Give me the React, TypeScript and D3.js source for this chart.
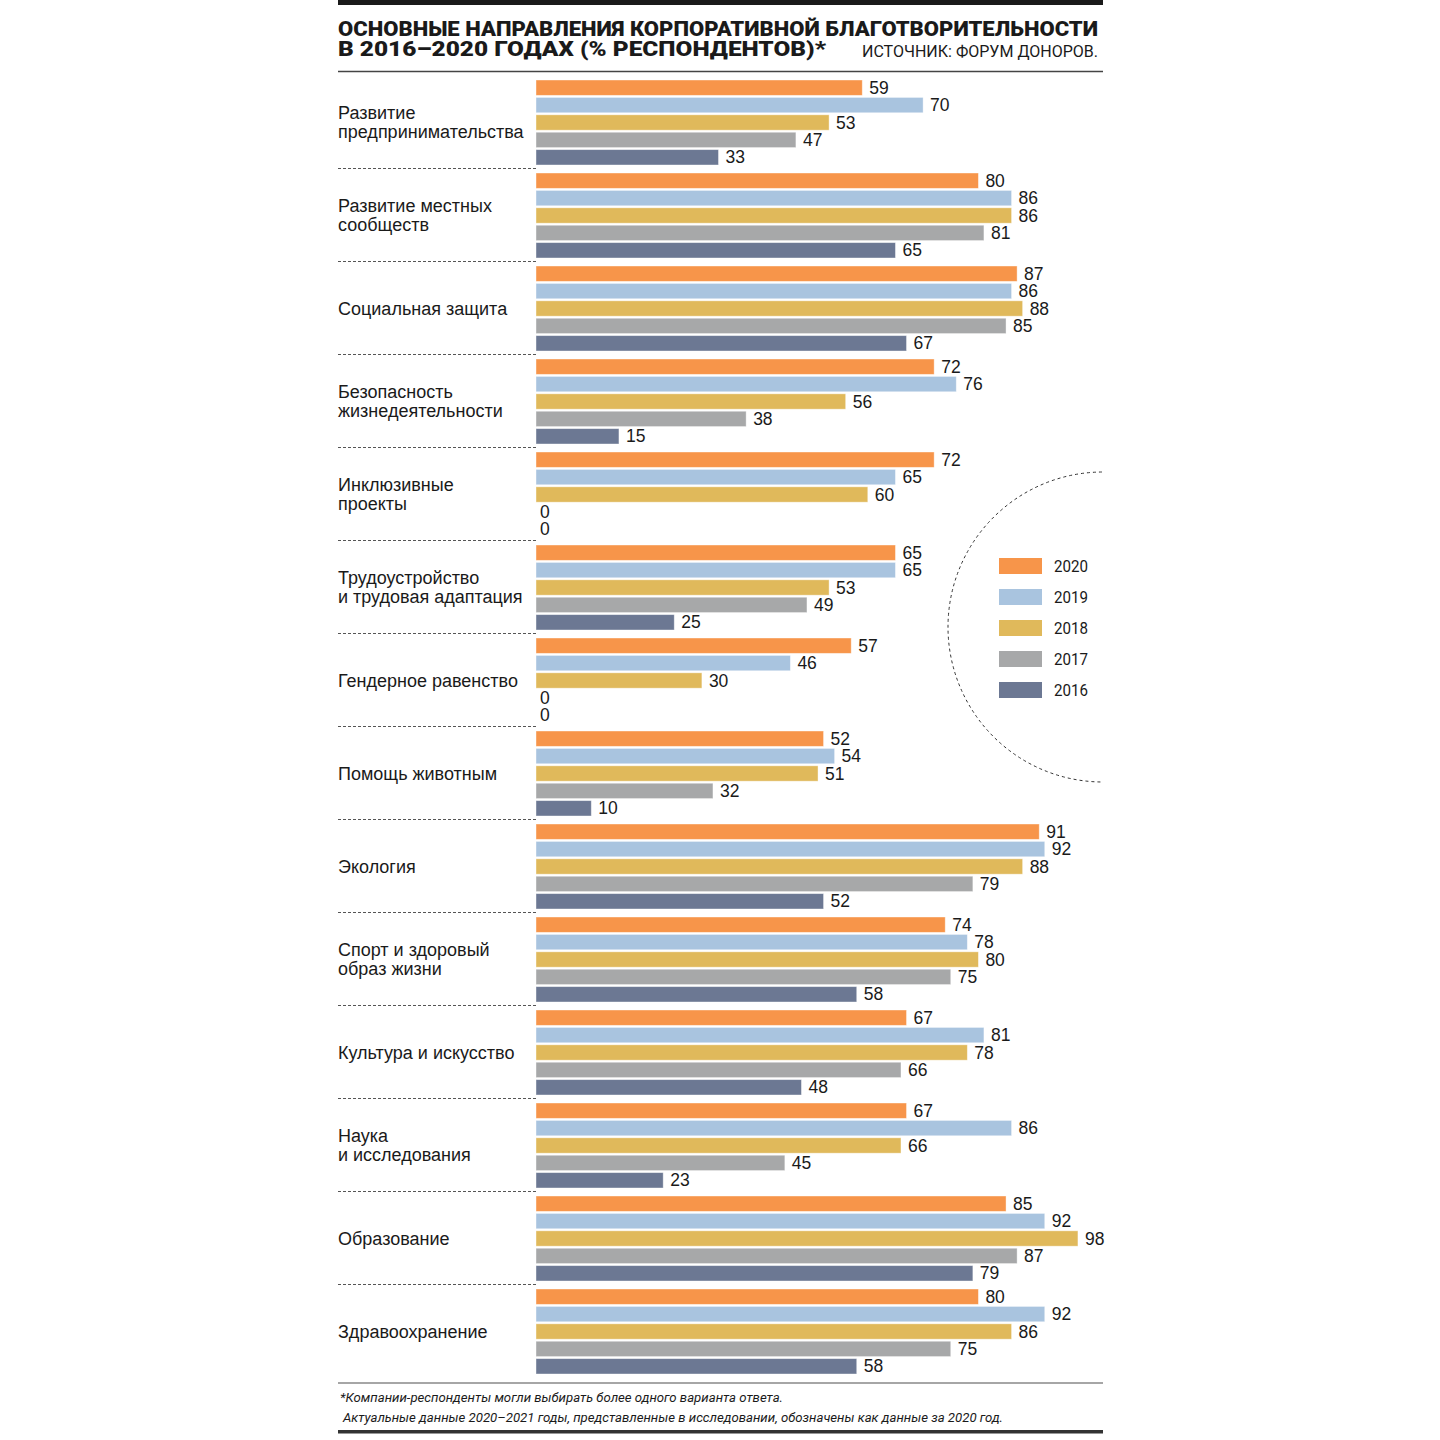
import React from "react";
import * as d3 from "d3";

const categories = [
  ["Развитие", "предпринимательства"],
  ["Развитие местных", "сообществ"],
  ["Социальная защита"],
  ["Безопасность", "жизнедеятельности"],
  ["Инклюзивные", "проекты"],
  ["Трудоустройство", "и трудовая адаптация"],
  ["Гендерное равенство"],
  ["Помощь животным"],
  ["Экология"],
  ["Спорт и здоровый", "образ жизни"],
  ["Культура и искусство"],
  ["Наука", "и исследования"],
  ["Образование"],
  ["Здравоохранение"],
];

const years = ["2020", "2019", "2018", "2017", "2016"];
const colors = ["#F7954A", "#A9C4DF", "#E0B95B", "#A7A8A9", "#6C7893"];

const v2020 = [59, 80, 87, 72, 72, 65, 57, 52, 91, 74, 67, 67, 85, 80];
const v2019 = [70, 86, 86, 76, 65, 65, 46, 54, 92, 78, 81, 86, 92, 92];
const v2018 = [53, 86, 88, 56, 60, 53, 30, 51, 88, 80, 78, 66, 98, 86];
const v2017 = [47, 81, 85, 38, 0, 49, 0, 32, 79, 75, 66, 45, 87, 75];
const v2016 = [33, 65, 67, 15, 0, 25, 0, 10, 52, 58, 48, 23, 79, 58];
const series = [v2020, v2019, v2018, v2017, v2016];

const LEFT = 338;
const RIGHT = 1103;
const BAR_X0 = 536;

export default function App() {
  const x = d3.scaleLinear().domain([0, 100]).range([BAR_X0, BAR_X0 + 553]);
  const y = d3
    .scaleBand<number>()
    .domain(d3.range(categories.length))
    .range([80, 80 + 93 * categories.length])
    .paddingInner(0)
    .paddingOuter(0);
  const yInner = d3.scaleBand<number>().domain(d3.range(5)).range([0, 85]).paddingInner(2 / 17);
  const legendY = d3.scaleLinear().domain([0, 1]).range([558, 589]);

  const labelFont = "'Liberation Sans', Arial, Helvetica, sans-serif";
  const condFont = "Roboto, 'Liberation Sans', sans-serif";

  return (
    <svg width={1440} height={1440} style={{ display: "block", position: "absolute", left: 0, top: 0 }}>
      <rect x={0} y={0} width={1440} height={1440} fill="#fff" />
      {/* top thick bar */}
      <rect x={LEFT} y={0} width={RIGHT - LEFT} height={5} fill="#1a1a1a" />
      {/* title */}
      <text
        x={LEFT}
        y={35.5}
        fontFamily={condFont}
        fontWeight={900}
        fontSize={20.5}
        fill="#1a1a1a"
        textLength={760}
        lengthAdjust="spacingAndGlyphs"
      >
        ОСНОВНЫЕ НАПРАВЛЕНИЯ КОРПОРАТИВНОЙ БЛАГОТВОРИТЕЛЬНОСТИ
      </text>
      <text
        x={LEFT}
        y={56}
        fontFamily={condFont}
        fontWeight={900}
        fontSize={20.5}
        fill="#1a1a1a"
        textLength={488}
        lengthAdjust="spacingAndGlyphs"
      >
        В 2016–2020 ГОДАХ (% РЕСПОНДЕНТОВ)*
      </text>
      <text
        x={1098}
        y={57}
        textAnchor="end"
        fontFamily={condFont}
        fontSize={16}
        fill="#1a1a1a"
        textLength={236}
        lengthAdjust="spacingAndGlyphs"
      >
        ИСТОЧНИК: ФОРУМ ДОНОРОВ.
      </text>
      <line x1={LEFT} x2={RIGHT} y1={71.5} y2={71.5} stroke="#444" strokeWidth={1.5} />

      {/* legend circle */}
      <defs>
        <clipPath id="clipRight">
          <rect x={0} y={0} width={RIGHT} height={1440} />
        </clipPath>
      </defs>
      <circle
        cx={1103}
        cy={627}
        r={155}
        fill="none"
        stroke="#333"
        strokeWidth={1}
        strokeDasharray="3,3"
        clipPath="url(#clipRight)"
      />

      {categories.map((lines, i) => {
        const top = y(i)!;
        const center = top + 42.5;
        const lh = 18.5;
        const startY = center - ((lines.length - 1) * lh) / 2 + 6;
        return (
          <g key={i}>
            <text fontFamily={labelFont} fontSize={18} fill="#1a1a1a">
              {lines.map((l, k) => (
                <tspan key={k} x={LEFT} y={startY + k * lh}>
                  {l}
                </tspan>
              ))}
            </text>
            {series.map((s, j) => {
              const by = top + yInner(j)!;
              const h = yInner.bandwidth();
              const v = s[i];
              return (
                <g key={j}>
                  {v > 0 && (
                    <rect
                      x={x(0)}
                      y={by}
                      width={x(v) - x(0)}
                      height={h}
                      fill={colors[j]}
                      stroke="#fff"
                      strokeOpacity={0.5}
                      strokeWidth={0.8}
                    />
                  )}
                  <text
                    x={x(v) + (v > 0 ? 7 : 4)}
                    y={by + h / 2 + 6}
                    fontFamily={labelFont}
                    fontSize={17.5}
                    fill="#1a1a1a"
                  >
                    {v}
                  </text>
                </g>
              );
            })}
            {i < categories.length - 1 && (
              <line
                x1={LEFT}
                x2={BAR_X0}
                y1={top + 88.5}
                y2={top + 88.5}
                stroke="#555"
                strokeWidth={1}
                strokeDasharray="3,2"
              />
            )}
          </g>
        );
      })}

      {/* legend */}
      {years.map((yr, j) => (
        <g key={yr}>
          <rect x={999} y={legendY(j)} width={43} height={16} fill={colors[j]} />
          <text
            x={1054}
            y={legendY(j) + 14}
            fontFamily={condFont}
            fontSize={17}
            fill="#1a1a1a"
            textLength={34}
            lengthAdjust="spacingAndGlyphs"
          >
            {yr}
          </text>
        </g>
      ))}

      {/* footer */}
      <line x1={LEFT} x2={RIGHT} y1={1383} y2={1383} stroke="#888" strokeWidth={1.5} />
      <text
        x={340}
        y={1402}
        fontFamily={condFont}
        fontStyle="italic"
        fontSize={13.5}
        fill="#1a1a1a"
        textLength={443}
        lengthAdjust="spacingAndGlyphs"
      >
        *Компании-респонденты могли выбирать более одного варианта ответа.
      </text>
      <text
        x={343}
        y={1422}
        fontFamily={condFont}
        fontStyle="italic"
        fontSize={13.5}
        fill="#1a1a1a"
        textLength={660}
        lengthAdjust="spacingAndGlyphs"
      >
        Актуальные данные 2020–2021 годы, представленные в исследовании, обозначены как данные за 2020 год.
      </text>
      <rect x={LEFT} y={1430} width={RIGHT - LEFT} height={3.5} fill="#333" />
    </svg>
  );
}
